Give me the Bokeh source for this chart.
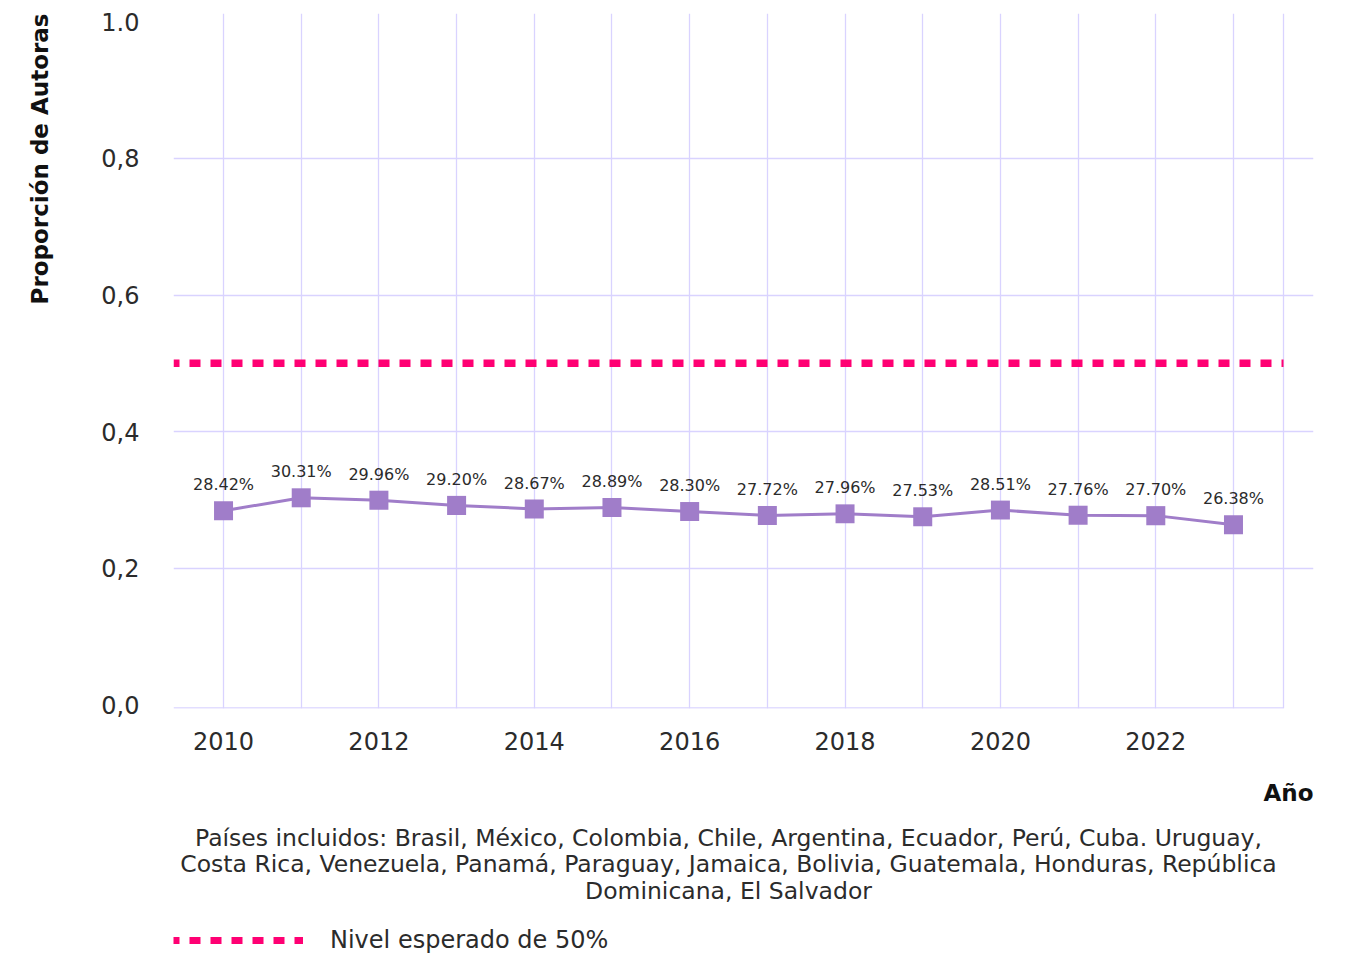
import math
from bokeh.plotting import figure
from bokeh.models import Range1d, FixedTicker, Legend, LegendItem, ColumnDataSource
from bokeh.layouts import column, row
from bokeh.embed import file_html
from bokeh.resources import INLINE
from bokeh.core.properties import value

# ---- data ----
years = list(range(2010, 2024))
proportion = [0.2842, 0.3031, 0.2996, 0.2920, 0.2867, 0.2889, 0.2830,
              0.2772, 0.2796, 0.2753, 0.2851, 0.2776, 0.2770, 0.2638]
point_labels = [f"{v * 100:.2f}%" for v in proportion]
expected_level = 0.5
x_tick_values = [2010, 2012, 2014, 2016, 2018, 2020, 2022]
y_tick_values = [0.0, 0.2, 0.4, 0.6, 0.8, 1.0]
y_tick_labels = ["0,0", "0,2", "0,4", "0,6", "0,8", "1.0"]
y_grid_values = [0.2, 0.4, 0.6, 0.8]
footnote_lines = [
    "Países incluidos: Brasil, México, Colombia, Chile, Argentina, Ecuador, Perú, Cuba. Uruguay,",
    "Costa Rica, Venezuela, Panamá, Paraguay, Jamaica, Bolivia, Guatemala, Honduras, República",
    "Dominicana, El Salvador",
]
legend_label = "Nivel esperado de 50%"
y_title = "Proporción de Autoras"
x_title = "Año"

# ---- style / layout ----
FONT = "DejaVu Sans"
GRID = "#d9d3ff"
PURPLE = "#a07dc9"
PINK = "#ff0073"
TXT = "#2b2b2b"
pad = 0.644

TW = 60                 # width of the y-title strip
W, H = 1330, 770        # total width, height of the chart row
BL, BT, BR, BB = 173, 13, 17, 62
x_lo = years[0] - pad
x_hi = years[-1] + pad
x_start, x_end = x_lo, 2024.03
y_start, y_end = -0.0054, 1.0122

p = figure(width=W - TW, height=H, output_backend="svg", toolbar_location=None,
           x_range=Range1d(x_start, x_end), y_range=Range1d(y_start, y_end),
           min_border_left=BL - TW, min_border_top=BT, min_border_right=BR, min_border_bottom=BB)
p.outline_line_color = None
p.background_fill_color = "white"

# grids
p.xgrid.ticker = FixedTicker(ticks=[x_lo] + years + [x_hi])
p.ygrid.ticker = FixedTicker(ticks=y_grid_values)
p.xgrid.grid_line_color = GRID
p.ygrid.grid_line_color = GRID
p.xgrid.grid_line_width = 1.3
p.ygrid.grid_line_width = 1.3

# axes
p.xaxis.ticker = FixedTicker(ticks=x_tick_values)
p.yaxis.ticker = FixedTicker(ticks=y_tick_values)
p.yaxis.major_label_overrides = {v: s for v, s in zip(y_tick_values, y_tick_labels)}
for ax in (p.xaxis[0], p.yaxis[0]):
    ax.axis_line_color = None
    ax.major_tick_line_color = None
    ax.minor_tick_line_color = None
    ax.major_label_text_font = FONT
    ax.major_label_text_color = TXT
    ax.major_label_text_font_size = "24px"
p.xaxis.major_label_standoff = 17
p.yaxis.major_label_standoff = 28

# bottom frame line
p.segment(x0=[x_lo], x1=[x_hi], y0=[-0.0045], y1=[-0.0045], line_color=GRID, line_width=1.5)

# expected level line
p.line(x=[x_lo, x_hi], y=[expected_level, expected_level], line_color=PINK,
       line_width=7.5, line_dash="11 10", line_dash_offset=5)

# data series
src = ColumnDataSource(dict(x=years, y=proportion, lab=point_labels))
p.line("x", "y", source=src, line_color=PURPLE, line_width=3)
p.scatter("x", "y", source=src, marker="square", size=19, fill_color=PURPLE, line_color=None)
p.text("x", "y", text="lab", source=src, text_align="center", text_baseline="alphabetic",
       y_offset=-26, text_font=value(FONT), text_font_size="16px", text_color=TXT)

# y-title strip (shares the y range so the title ends at the top of the plot area)
yt = figure(width=TW, height=H, output_backend="svg", toolbar_location=None,
            x_range=Range1d(0, TW), y_range=p.y_range, x_axis_type=None, y_axis_type=None,
            min_border_left=0, min_border_right=0, min_border_top=BT, min_border_bottom=BB)
yt.outline_line_color = None
yt.grid.visible = False
yt.text(x=[39], y=[y_end], text=[y_title], angle=math.pi / 2, text_align="right",
        text_baseline="middle", text_font=value(FONT), text_font_size="23px",
        text_font_style="bold", text_color="#111111")

# bottom block: x title, footnote, legend (pixel coordinates, frame aligned with the plot)
HB = 185
bot = figure(width=W, height=HB, output_backend="svg", toolbar_location=None,
             x_range=Range1d(0, W - BL - BR), y_range=Range1d(0, HB),
             x_axis_type=None, y_axis_type=None,
             min_border_left=BL, min_border_right=BR, min_border_top=0, min_border_bottom=0)
bot.outline_line_color = None
bot.grid.visible = False
top_px = H  # absolute y of the top of this block
bot.text(x=[W - BL - BR], y=[HB - (792 - top_px)], text=[x_title], text_align="right",
         text_baseline="middle", text_font=value(FONT), text_font_size="23px",
         text_font_style="bold", text_color="#111111")
foot_y = [HB - (c - top_px) for c in (837, 863.5, 890)]
bot.text(x=[728 - BL] * 3, y=foot_y, text=footnote_lines, text_align="center",
         text_baseline="middle", text_font=value(FONT), text_font_size="23.5px",
         text_color=TXT)
r = bot.line(x=[0, 1], y=[-100, -100], line_color=PINK, line_width=7, line_dash="11 10",
             line_dash_offset=5)
legend = Legend(items=[LegendItem(label=legend_label, renderers=[r])], location=(0, 1),
                glyph_width=130, glyph_height=8, label_standoff=27, label_height=16,
                label_text_font=FONT, label_text_font_size="24px", label_text_color=TXT,
                border_line_color=None, background_fill_alpha=0, padding=0, margin=0)
bot.add_layout(legend)

layout = column(row(yt, p, spacing=0), bot, spacing=0)
open("out.html", "w").write(file_html(layout, INLINE))
